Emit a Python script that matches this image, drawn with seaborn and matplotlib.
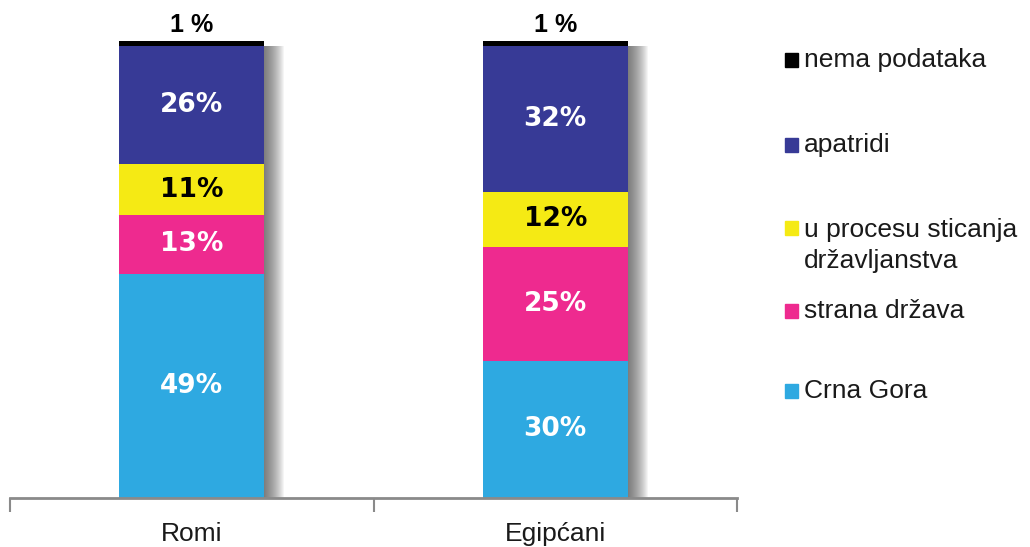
import numpy as np
import pandas as pd
import matplotlib
matplotlib.use("Agg")
import matplotlib.pyplot as plt
from matplotlib.patches import Rectangle
import seaborn as sns

categories = ["Romi", "Egipćani"]
series_names = ["Crna Gora", "strana država", "u procesu sticanja\ndržavljanstva", "apatridi", "nema podataka"]
crna_gora = [49, 30]
strana_drzava = [13, 25]
u_procesu = [11, 12]
apatridi = [26, 32]
nema_podataka = [1, 1]
colors = ["#2EA9E1", "#EE2A8F", "#F5EA14", "#373A96", "#000000"]
label_colors = ["white", "white", "black", "white", "black"]

sns.set_theme(style="white")
plt.rcParams['font.family'] = ['Liberation Sans', 'DejaVu Sans']

series = [crna_gora, strana_drzava, u_procesu, apatridi, nema_podataka]
cum = np.cumsum(np.array(series, dtype=float), axis=0)

fig = plt.figure(figsize=(10.30, 5.47), dpi=100)
ax = fig.add_axes([10/1030, 49/547, 727/1030, (498-41)/547])

bar_w = 0.40
xs = np.arange(len(categories))
px = 2.0 / 727.0
# soft drop shadow
for k in range(1, 21):
    ax.bar(xs + k * px, cum[-1] - 1, width=bar_w, color="#404040",
           alpha=0.05, zorder=1, linewidth=0)

# stacked bars (draw tallest first)
for i in range(len(series) - 1, -1, -1):
    df = pd.DataFrame({"cat": categories, "val": cum[i]})
    sns.barplot(data=df, x="cat", y="val", color=colors[i], width=bar_w,
                saturation=1, ax=ax, zorder=2, linewidth=0, order=categories)

# value labels
for i in range(len(series)):
    for j in range(len(categories)):
        v = series[i][j]
        bottom = cum[i][j] - v
        if i == len(series) - 1:
            ax.text(xs[j], cum[i][j] + 0.9, f"{v} %", ha="center", va="bottom",
                    fontsize=18, fontweight="bold", color="black", zorder=5, clip_on=False)
        else:
            ax.text(xs[j], bottom + v / 2, f"{v}%", ha="center", va="center",
                    fontsize=19, fontweight="bold", color=label_colors[i], zorder=5,
                    family="DejaVu Sans")

ax.set_xlim(-0.5, 1.5)
ax.set_ylim(0, 100)
ax.set_xlabel("")
ax.set_ylabel("")
ax.set_yticks([])
for s in ["top", "right", "left"]:
    ax.spines[s].set_visible(False)
ax.spines["bottom"].set_color("#8a8a8a")
ax.spines["bottom"].set_linewidth(2)
ax.set_xticks([-0.5, 0.5, 1.5], minor=False)
ax.set_xticklabels(["", "", ""])
ax.tick_params(axis="x", which="major", direction="out", length=10, width=1.5, color="#8a8a8a", bottom=True)
ax.set_xticks(xs, minor=True)
ax.set_xticklabels(categories, minor=True, fontsize=19, color="#1a1a1a")
ax.tick_params(axis="x", which="minor", length=0, pad=17)

# legend drawn manually
leg_y = [60, 145, 228, 311, 391]
for i in range(len(series) - 1, -1, -1):
    y = leg_y[len(series) - 1 - i]
    fig.patches.append(Rectangle((785/1030, 1 - (y + 7)/547), 13/1030, 14/547,
                                 transform=fig.transFigure, color=colors[i], figure=fig))
    if "\n" in series_names[i]:
        fig.text(804/1030, 1 - (y - 10)/547, series_names[i], ha="left", va="top",
                 fontsize=19, color="#1a1a1a", linespacing=1.35)
    else:
        fig.text(804/1030, 1 - y/547, series_names[i], ha="left", va="center",
                 fontsize=19, color="#1a1a1a")

fig.savefig("out.png", dpi=100)
